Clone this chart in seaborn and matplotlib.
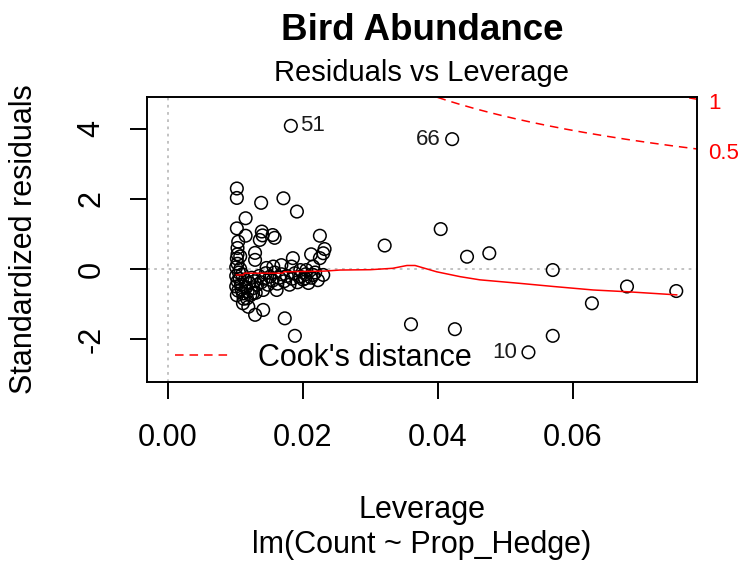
import numpy as np
import pandas as pd
import matplotlib
matplotlib.use("Agg")
import matplotlib.pyplot as plt
from matplotlib.lines import Line2D
import seaborn as sns

# ---------------- data ----------------
leverage = [
    # labelled / outer points
    0.0182, 0.0421, 0.0534,
    0.0321, 0.0404, 0.0443, 0.0476, 0.0570, 0.0680, 0.0753, 0.0628, 0.0360, 0.0425, 0.0570,
    # upper part of cluster
    0.0102, 0.0102, 0.0138, 0.0171, 0.0191, 0.0115, 0.0102, 0.0115, 0.0104, 0.0139,
    0.0140, 0.0155, 0.0158, 0.0136, 0.0225, 0.0232, 0.0212, 0.0225, 0.0230, 0.0103,
    # middle of cluster
    0.0103, 0.0102, 0.0107, 0.0129, 0.0129, 0.0185, 0.0168, 0.0156, 0.0146, 0.0183,
    0.0196, 0.0205, 0.0215, 0.0230, 0.0203, 0.0215,
    # dense mass, left
    0.0101, 0.0103, 0.0101, 0.0104, 0.0102, 0.0106, 0.0108, 0.0109, 0.0111, 0.0112,
    0.0114, 0.0116, 0.0118, 0.0120, 0.0122, 0.0124, 0.0126, 0.0128, 0.0130, 0.0132,
    0.0105, 0.0110, 0.0101, 0.0103, 0.0107,
    # dense mass, right
    0.0135, 0.0138, 0.0142, 0.0145, 0.0148, 0.0151, 0.0155, 0.0158, 0.0162, 0.0165,
    0.0168, 0.0172, 0.0176, 0.0180, 0.0184, 0.0188, 0.0192, 0.0196, 0.0200, 0.0204,
    0.0208, 0.0212, 0.0218, 0.0222,
    # lower tail
    0.0161, 0.0141, 0.0126, 0.0117, 0.0111, 0.0119, 0.0129, 0.0141, 0.0173, 0.0188,
]
std_resid = [
    4.09, 3.71, -2.38,
    0.67, 1.14, 0.35, 0.45, -0.03, -0.50, -0.63, -0.98, -1.58, -1.72, -1.91,
    2.30, 2.03, 1.89, 2.02, 1.64, 1.45, 1.16, 0.95, 0.78, 1.07,
    0.96, 0.97, 0.89, 0.83, 0.95, 0.57, 0.42, 0.31, 0.45, 0.60,
    0.42, 0.30, 0.36, 0.46, 0.26, 0.31, 0.11, 0.07, 0.03, 0.07,
    -0.03, -0.03, 0.07, -0.17, -0.27, -0.17,
    -0.20, -0.35, -0.50, -0.62, -0.75, -0.28, -0.45, -0.58, -0.70, -0.85,
    -0.30, -0.52, -0.64, -0.40, -0.75, -0.25, -0.55, -0.35, -0.68, -0.45,
    -0.10, -0.15, 0.05, 0.15, 0.00,
    -0.20, -0.38, -0.28, -0.12, -0.45, -0.22, -0.33, -0.10, -0.42, -0.25,
    -0.15, -0.35, -0.20, -0.45, -0.28, -0.12, -0.38, -0.22, -0.30, -0.15,
    -0.40, -0.25, -0.10, -0.32,
    -0.60, -0.60, -0.69, -0.84, -0.98, -1.08, -1.31, -1.17, -1.41, -1.91,
]

# labelled observations
label_ids = ["51", "66", "10"]
label_lev = [0.0182, 0.0421, 0.0534]
label_res = [4.09, 3.71, -2.38]
label_side = ["right", "left", "left"]

# red smoother
smooth_lev = [0.0101, 0.0112, 0.0113, 0.0170, 0.0172, 0.0232, 0.0255, 0.0300, 0.0333,
              0.0354, 0.0366, 0.0398, 0.0433, 0.0462, 0.0521, 0.0571, 0.0630, 0.0680, 0.0754]
smooth_res = [-0.17, -0.17, -0.12, -0.12, -0.08, -0.06, -0.03, -0.02, 0.02,
              0.10, 0.10, -0.08, -0.22, -0.31, -0.41, -0.50, -0.60, -0.65, -0.74]

# Cook's distance contour levels, number of model parameters
cook_levels = [0.5, 1.0]
cook_labels = ["0.5", "1"]
n_params = 2

x_ticks = [0.00, 0.02, 0.04, 0.06]
x_ticklabels = ["0.00", "0.02", "0.04", "0.06"]
y_ticks = [-2, 0, 2, 4]
y_ticklabels = ["-2", "0", "2", "4"]

# ---------------- style ----------------
sns.set_theme(style="ticks")
plt.rcParams["font.family"] = ["Liberation Sans", "DejaVu Sans"]
plt.rcParams["text.color"] = "black"
plt.rcParams["axes.labelcolor"] = "black"

W, H = 739, 568
fig = plt.figure(figsize=(W / 100, H / 100), dpi=100)
L, R, T, B = 147, 697, 97, 382
ax = fig.add_axes([L / W, 1 - B / H, (R - L) / W, (B - T) / H])

xmin, xmax = -0.00311, 0.07837
ymin, ymax = -3.229, 4.914
ax.set_xlim(xmin, xmax)
ax.set_ylim(ymin, ymax)

# reference lines
grey_dots = (0, (1.5, 2.5))
ax.axhline(0, color="#BDBDBD", lw=1.3, ls=grey_dots, zorder=1)
ax.axvline(0, color="#BDBDBD", lw=1.3, ls=grey_dots, zorder=1)

df = pd.DataFrame({"Leverage": leverage, "Std. residual": std_resid})
sns.scatterplot(data=df, x="Leverage", y="Std. residual", ax=ax, marker="o",
                s=82, facecolors="none", edgecolor="black", linewidth=1.1, zorder=3)

sm = pd.DataFrame({"lev": smooth_lev, "res": smooth_res})
sns.lineplot(data=sm, x="lev", y="res", ax=ax, color="red", lw=1.1,
             estimator=None, sort=False, zorder=4)

# Cook's distance contours
cook_ls = (0, (5.6, 3.9))
hh = np.linspace(0.0101, xmax, 201)
for lvl, lab in zip(cook_levels, cook_labels):
    cl = np.sqrt(lvl * n_params * (1 - hh) / hh)
    ax.plot(hh, cl, color="red", lw=1.1, ls=cook_ls, zorder=2)
    ax.plot(hh, -cl, color="red", lw=1.1, ls=cook_ls, zorder=2)
    yl = np.sqrt(lvl * n_params * (1 - xmax) / xmax)
    ax.text(1.02, yl - 0.13, lab, transform=ax.get_yaxis_transform(), color="red",
            fontsize=16, ha="left", va="center", clip_on=False)

# point labels
for lab, lx, ly, side in zip(label_ids, label_lev, label_res, label_side):
    off = 6.5 if side == "right" else -8.3
    ax.annotate(lab, (lx, ly), xytext=(off, 0), textcoords="offset points",
                ha="left" if side == "right" else "right", va="center",
                fontsize=16, color="#1a1a1a")

# legend
handle = Line2D([0], [0], color="red", lw=1.1, ls=cook_ls)
ax.legend([handle], ["Cook's distance"], loc="center left",
          bbox_to_anchor=((175 - L) / (R - L), (B - 358) / (B - T)),
          frameon=False, fontsize=22, handlelength=1.75, handletextpad=0.95,
          borderpad=0, borderaxespad=0, labelcolor="black")

# axes styling
for sp in ax.spines.values():
    sp.set_visible(True)
    sp.set_color("black")
    sp.set_linewidth(1.4)
ax.set_xticks(x_ticks)
ax.set_xticklabels(x_ticklabels)
ax.set_yticks(y_ticks)
ax.set_yticklabels(y_ticklabels, rotation=90, va="center")
ax.tick_params(axis="both", direction="out", length=12.2, width=1.4,
               labelsize=22, pad=17, colors="black")
ax.set_xlabel("")
ax.set_ylabel("")

# titles and axis labels
cx = (L + R) / 2 / W
fig.text(cx, 1 - 30 / H, "Bird Abundance", ha="center", va="center",
         fontsize=26.5, fontweight="bold", color="black")
fig.text(cx, 1 - 73 / H, "Residuals vs Leverage", ha="center", va="center",
         fontsize=21, color="black")
fig.text(cx, 1 - 510 / H, "Leverage", ha="center", va="center", fontsize=22,
         color="black")
fig.text(cx, 1 - 545 / H, "lm(Count ~ Prop_Hedge)", ha="center", va="center",
         fontsize=22, color="black")
fig.text(24 / W, 1 - (T + B) / 2 / H, "Standardized residuals", rotation=90,
         ha="center", va="center", fontsize=22, color="black")

fig.savefig("out.png", dpi=100, facecolor="white")
